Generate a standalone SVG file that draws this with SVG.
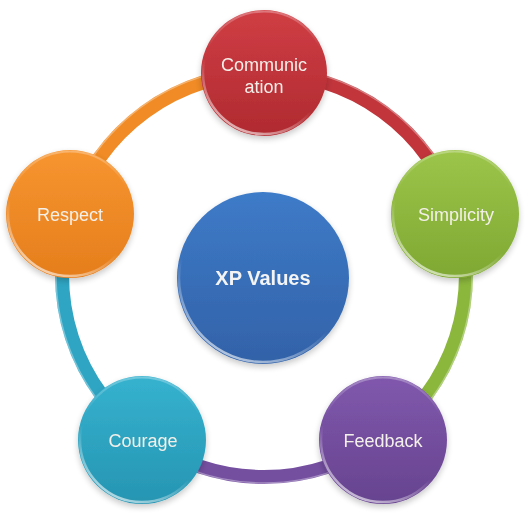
<svg xmlns="http://www.w3.org/2000/svg" width="527" height="520" viewBox="0 0 527 520">
  <defs>
    <linearGradient id="gRed" x1="0" y1="0" x2="0" y2="1">
      <stop offset="0" stop-color="#cf3e44"/><stop offset="1" stop-color="#b02a30"/>
    </linearGradient>
    <linearGradient id="gGreen" x1="0" y1="0" x2="0" y2="1">
      <stop offset="0" stop-color="#9cc54a"/><stop offset="1" stop-color="#7fa833"/>
    </linearGradient>
    <linearGradient id="gPurple" x1="0" y1="0" x2="0" y2="1">
      <stop offset="0" stop-color="#8058ad"/><stop offset="1" stop-color="#67438f"/>
    </linearGradient>
    <linearGradient id="gCyan" x1="0" y1="0" x2="0" y2="1">
      <stop offset="0" stop-color="#35b2cf"/><stop offset="1" stop-color="#2695b2"/>
    </linearGradient>
    <linearGradient id="gOrange" x1="0" y1="0" x2="0" y2="1">
      <stop offset="0" stop-color="#f79530"/><stop offset="1" stop-color="#e57e1c"/>
    </linearGradient>
    <linearGradient id="gBlue" x1="0" y1="0" x2="0" y2="1">
      <stop offset="0" stop-color="#3e7bc8"/><stop offset="1" stop-color="#3262a8"/>
    </linearGradient>
    <linearGradient id="rim" x1="0.75" y1="0" x2="0.25" y2="1">
      <stop offset="0.6" stop-color="#ffffff" stop-opacity="0"/>
      <stop offset="1" stop-color="#ffffff" stop-opacity="0.7"/>
    </linearGradient>
    <linearGradient id="topRim" x1="0" y1="0" x2="0" y2="1">
      <stop offset="0" stop-color="#ffffff" stop-opacity="0.3"/>
      <stop offset="0.3" stop-color="#ffffff" stop-opacity="0"/>
    </linearGradient>
    <filter id="sh" x="-20%" y="-20%" width="140%" height="150%">
      <feGaussianBlur in="SourceAlpha" stdDeviation="3"/>
      <feOffset dy="3" result="b"/>
      <feComponentTransfer><feFuncA type="linear" slope="0.22"/></feComponentTransfer>
      <feMerge><feMergeNode/><feMergeNode in="SourceGraphic"/></feMerge>
    </filter>
  </defs>
  <style>
    .arc { fill: none; stroke-width: 14; }
    .arcHi { fill: none; stroke: #ffffff; stroke-opacity: 0.35; stroke-width: 1.5; }
    .rim { fill: none; stroke: url(#rim); stroke-width: 2.5; }
    .top { fill: none; stroke: url(#topRim); stroke-width: 2; }
    .lbl { font-family: "Liberation Sans", Arial, sans-serif; font-size: 18px; fill: #f3f0ea; text-anchor: middle; }
    .main { font-family: "Liberation Sans", Arial, sans-serif; font-size: 20px; font-weight: bold; fill: #f4f4f4; text-anchor: middle; }
  </style>
  <rect width="527" height="520" fill="#ffffff"/>

  <g id="connectors">
    <path class="arc" stroke="#c1353b" d="M264,73 A202,202 0 0 1 456.1,212.6"/>
    <path class="arc" stroke="#8bb73c" d="M456.1,212.6 A202,202 0 0 1 382.7,438.4"/>
    <path class="arc" stroke="#744fa0" d="M382.7,438.4 A202,202 0 0 1 145.3,438.4"/>
    <path class="arc" stroke="#2fa5c3" d="M145.3,438.4 A202,202 0 0 1 71.9,212.6"/>
    <path class="arc" stroke="#f08b25" d="M71.9,212.6 A202,202 0 0 1 264,73"/>
    <circle class="arcHi" cx="264" cy="275" r="208"/>
  </g>

  <g id="xp-values" filter="url(#sh)">
    <circle cx="263" cy="278" r="86" fill="url(#gBlue)"/>
    <circle class="rim" cx="263" cy="278" r="84"/>
    <text class="main" x="263" y="285">XP Values</text>
  </g>

  <g id="communication" filter="url(#sh)">
    <circle cx="264" cy="73" r="63" fill="url(#gRed)"/>
    <circle class="rim" cx="264" cy="73" r="61"/>
    <circle class="top" cx="264" cy="73" r="61.5"/>
    <text class="lbl" x="264" y="71">Communic</text>
    <text class="lbl" x="264" y="93">ation</text>
  </g>

  <g id="simplicity" filter="url(#sh)">
    <circle cx="455" cy="214" r="64" fill="url(#gGreen)"/>
    <circle class="rim" cx="455" cy="214" r="62"/>
    <circle class="top" cx="455" cy="214" r="62.5"/>
    <text class="lbl" x="456" y="221">Simplicity</text>
  </g>

  <g id="feedback" filter="url(#sh)">
    <circle cx="383" cy="440" r="64" fill="url(#gPurple)"/>
    <circle class="rim" cx="383" cy="440" r="62"/>
    <circle class="top" cx="383" cy="440" r="62.5"/>
    <text class="lbl" x="383" y="447">Feedback</text>
  </g>

  <g id="courage" filter="url(#sh)">
    <circle cx="142" cy="440" r="64" fill="url(#gCyan)"/>
    <circle class="rim" cx="142" cy="440" r="62"/>
    <circle class="top" cx="142" cy="440" r="62.5"/>
    <text class="lbl" x="143" y="447">Courage</text>
  </g>

  <g id="respect" filter="url(#sh)">
    <circle cx="70" cy="214" r="64" fill="url(#gOrange)"/>
    <circle class="rim" cx="70" cy="214" r="62"/>
    <circle class="top" cx="70" cy="214" r="62.5"/>
    <text class="lbl" x="70" y="221">Respect</text>
  </g>
</svg>
